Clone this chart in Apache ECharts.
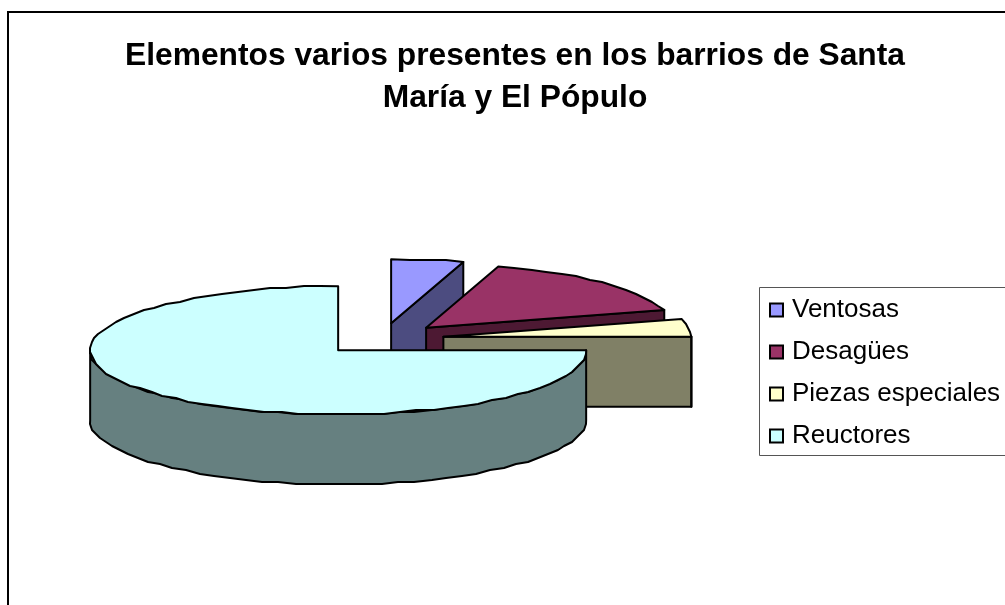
<!DOCTYPE html>
<html>
<head>
<meta charset="utf-8">
<style>html,body{margin:0;padding:0;background:#fff;overflow:hidden}#c{width:1005px;height:605px}</style>
<script src="https://cdn.jsdelivr.net/npm/echarts@6/dist/echarts.min.js"></script>
</head>
<body>
<div id="c"></div>
<script>
const categories = ['Ventosas', 'Desagües', 'Piezas especiales', 'Reuctores'];
const values = [4.7, 15.8, 4.5, 75];
const topColors = ['#9999FF', '#993366', '#FFFFCC', '#CCFFFF'];
const sideColors = ['#4C4C80', '#4D1933', '#808066', '#668080'];
const titleText = 'Elementos varios presentes en los barrios de Santa\nMaría y El Pópulo';

const CX = 382, CY = 339, RX = 248, RY = 64, DEPTH = 70, EXPLODE = 0.25, GRID = 2;
const total = values.reduce((a, b) => a + b, 0);
const rad = d => d * Math.PI / 180;
const starts = [];
values.reduce((acc, v, i) => { starts[i] = acc; return acc + v / total * 360; }, 0);

function sliceShapes(i) {
  const a0 = starts[i], a1 = a0 + values[i] / total * 360, mid = (a0 + a1) / 2;
  const ox = CX + EXPLODE * RX * Math.sin(rad(mid));
  const oy = CY - EXPLODE * RY * Math.cos(rad(mid));
  const pt = (a, jag) => {
    let x = ox + RX * Math.sin(rad(a)), y = oy - RY * Math.cos(rad(a));
    if (jag) { x = Math.round(x / GRID) * GRID; y = Math.round(y / GRID) * GRID; }
    return [x, y];
  };
  const arc = (p, q) => {
    const out = [pt(p, false)];
    const n = Math.max(1, Math.round((q - p) / 4));
    for (let k = 1; k < n; k++) out.push(pt(p + (q - p) * k / n, true));
    out.push(pt(q, false));
    return out;
  };
  const style = (fill) => ({ fill, stroke: '#000', lineWidth: 2, lineJoin: 'round' });
  const poly = (points, fill) => ({ type: 'polygon', shape: { points }, style: style(fill) });
  const down = p => [p[0], p[1] + DEPTH];
  const apex = [ox, oy], kids = [];
  const radial = a => { const p = pt(a, false); return poly([apex, p, down(p), down(apex)], sideColors[i]); };
  if (Math.sin(rad(a0)) < -1e-6) kids.push(radial(a0));
  if (Math.sin(rad(a1)) > 1e-6 || Math.abs(a1 - 90) < 1e-6) kids.push(radial(a1));
  const f0 = Math.max(a0, 90), f1 = Math.min(a1, 270);
  if (f1 > f0) {
    const rim = arc(f0, f1);
    kids.push(poly(rim.concat(rim.slice().reverse().map(down)), sideColors[i]));
  }
  kids.push(poly([apex].concat(arc(a0, a1)), topColors[i]));
  return kids;
}

const chart = echarts.init(document.getElementById('c'), null, { renderer: 'canvas' });
chart.setOption({
  animation: false,
  backgroundColor: '#fff',
  title: {
    text: titleText, left: 510, top: 30, textAlign: 'center',
    textStyle: { fontFamily: 'Liberation Sans', fontWeight: 'bold', fontSize: 31.75, lineHeight: 42, color: '#000' }
  },
  legend: {
    data: categories, orient: 'vertical', left: 769, top: 297, padding: 0,
    itemWidth: 13, itemHeight: 13, itemGap: 16, icon: 'rect', selectedMode: false,
    itemStyle: { borderColor: '#000', borderWidth: 2 },
    textStyle: { fontFamily: 'Liberation Sans', fontSize: 26, color: '#000', padding: [0, 0, 0, 4] }
  },
  graphic: [
    { type: 'rect', silent: true, z: -1, shape: { x: 8, y: 12, width: 1100, height: 700 }, style: { fill: 'none', stroke: '#000', lineWidth: 2 } },
    { type: 'rect', silent: true, z: -1, shape: { x: 759.5, y: 287.5, width: 400, height: 168 }, style: { fill: 'none', stroke: '#555', lineWidth: 1 } }
  ],
  series: categories.map((name, i) => ({
    type: 'custom', name, coordinateSystem: 'none', silent: true, z: 2 + i,
    itemStyle: { color: topColors[i] },
    data: [values[i]],
    renderItem: () => ({ type: 'group', children: sliceShapes(i) })
  }))
});
</script>
</body>
</html>
